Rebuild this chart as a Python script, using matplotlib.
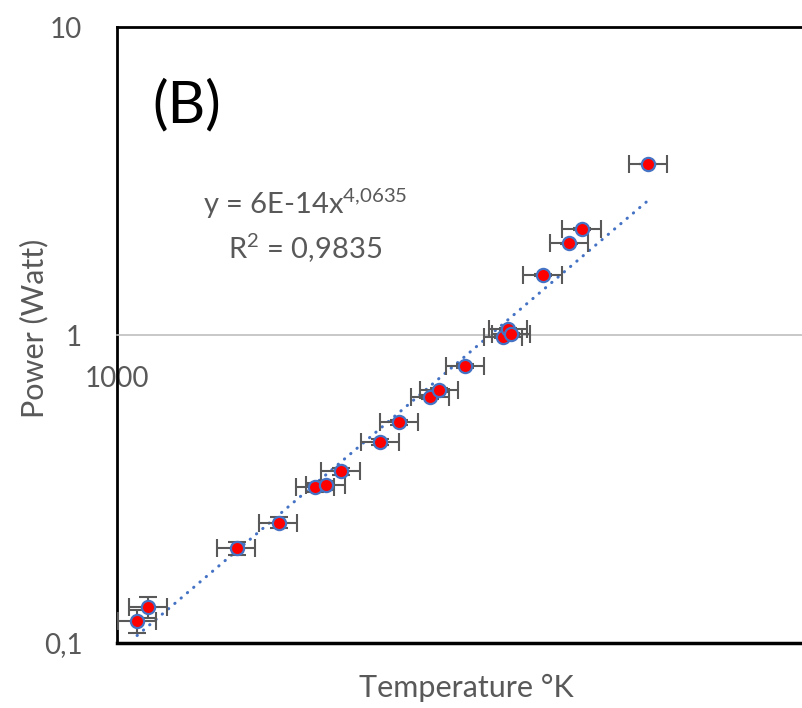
import numpy as np
import matplotlib
matplotlib.use("Agg")
import matplotlib.pyplot as plt

# temperature (K) and power (W)
TEMPERATURE = [1032, 1050, 1206, 1288, 1364, 1387, 1420, 1510, 1556, 1633,
               1657, 1726, 1831, 1846, 1855, 1948, 2030, 2071, 2298]
POWER = [0.118, 0.131, 0.203, 0.246, 0.320, 0.325, 0.361, 0.450, 0.521, 0.630,
         0.663, 0.793, 0.987, 1.043, 1.008, 1.566, 1.985, 2.209, 3.591]

X_ERR_FRAC = 0.03   # +/- 3 % on temperature
Y_ERR = 0.01        # +/- 0.01 W on power

# power law trendline shown on the chart
TREND_A = 6e-14
TREND_B = 4.0635

Y_TICKS = [0.1, 1, 10]
Y_TICK_LABELS = ["0,1", "1", "10"]
X_TICKS = [1000]
X_TICK_LABELS = ["1000"]

GREY = "#595959"
BLUE = "#4472C4"

plt.rcParams["font.family"] = ["Lato", "DejaVu Sans"]
plt.rcParams["mathtext.fontset"] = "custom"
plt.rcParams["mathtext.rm"] = "Lato"
plt.rcParams["mathtext.default"] = "regular"

fig = plt.figure(figsize=(8.02, 7.08), dpi=100)
ax = fig.add_axes([117 / 802, 65 / 708, 685 / 802, 616 / 708])

x = np.array(TEMPERATURE)
y = np.array(POWER)

ax.set_xscale("log")
ax.set_yscale("log")
ax.set_xlim(1000, 10 ** 3.466)
ax.set_ylim(0.1, 10)

# trendline over the data range
x_line = np.geomspace(x.min(), x.max(), 200)
ax.plot(x_line, TREND_A * x_line ** TREND_B, color=BLUE, lw=2.2,
        linestyle=(0, (0.1, 2.6)), dash_capstyle="round", zorder=2)

ax.errorbar(x, y, xerr=x * X_ERR_FRAC, yerr=Y_ERR, fmt="none",
            ecolor=GREY, elinewidth=1.5, capsize=6.5, capthick=1.5, zorder=3)
ax.plot(x, y, "o", ms=9.5, mfc="red", mec=BLUE, mew=1.6, zorder=4)

# horizontal axis crosses at y = 1
ax.spines["bottom"].set_position(("data", 1))
ax.spines["bottom"].set_color("#BFBFBF")
ax.spines["bottom"].set_linewidth(1.2)
ax.spines["right"].set_visible(False)
ax.spines["left"].set_linewidth(2)
ax.spines["top"].set_linewidth(2)
ax.plot([0, 1], [0, 0], transform=ax.transAxes, color="black", lw=2.5,
        clip_on=False, zorder=5)

ax.set_yticks(Y_TICKS)
ax.set_yticklabels(Y_TICK_LABELS)
ax.set_xticks(X_TICKS)
ax.set_xticklabels(X_TICK_LABELS)
ax.minorticks_off()
ax.tick_params(axis="y", length=0, pad=25, labelsize=20, labelcolor=GREY)
ax.tick_params(axis="x", length=0, pad=22, labelsize=20, labelcolor=GREY)

ax.set_xlabel("Temperature °K", fontsize=22, color=GREY)
ax.xaxis.set_label_coords(0.5095, -0.050)
ax.set_ylabel("Power (Watt)", fontsize=22, color=GREY)
ax.yaxis.set_label_coords(-0.100, 0.51)

ax.text(0.051, 0.873, "(B)", transform=ax.transAxes, fontsize=42,
        ha="left", va="center", color="black")
ax.text(0.2745, 0.713, "y = 6E-14x$^{4{,}0635}$", transform=ax.transAxes,
        fontsize=21, ha="center", va="center", color=GREY)
ax.text(0.2745, 0.641, "R$^{2}$ = 0,9835", transform=ax.transAxes,
        fontsize=21, ha="center", va="center", color=GREY)

fig.savefig("out.png", dpi=100)
